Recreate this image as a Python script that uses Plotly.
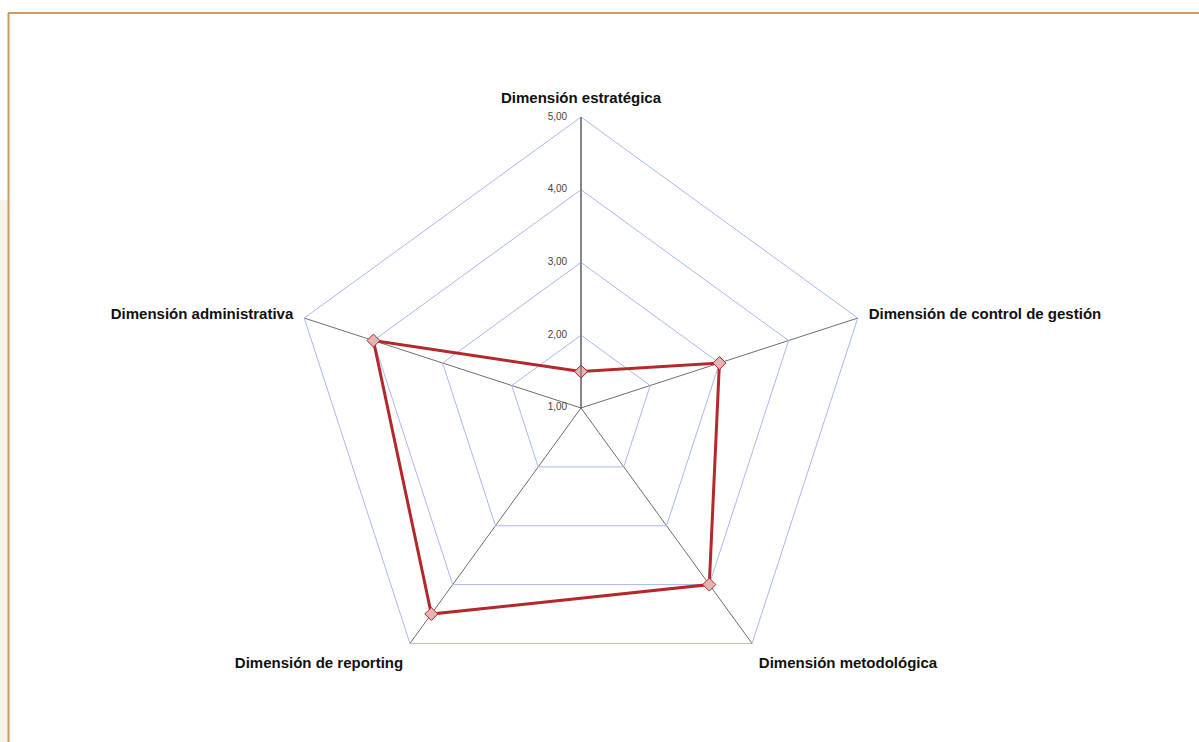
import plotly.graph_objects as go

categories = ["Dimensión estratégica", "Dimensión de control de gestión",
              "Dimensión metodológica", "Dimensión de reporting",
              "Dimensión administrativa"]
values = [1.5, 3.0, 4.0, 4.5, 4.0]
radial_ticks = [1, 2, 3, 4, 5]
radial_tick_labels = ["1,00", "2,00", "3,00", "4,00", "5,00"]

W, H = 1199, 742
cx, cy, R = 581, 408, 291

fig = go.Figure()
fig.add_trace(go.Scatterpolar(
    r=values + values[:1],
    theta=categories + categories[:1],
    mode="lines+markers",
    line=dict(color="#b3282b", width=3),
    marker=dict(symbol="diamond", size=10, color="#e2b4b2",
                line=dict(color="#b3282b", width=1)),
    showlegend=False,
    hoverinfo="r+theta",
))
# radial tick labels, drawn horizontally to the left of the top spoke
fig.add_trace(go.Scatterpolar(
    r=radial_ticks,
    theta=[categories[0]] * len(radial_ticks),
    mode="text",
    text=[t + "\u00a0" * 5 for t in radial_tick_labels],
    textposition="middle left",
    textfont=dict(size=10, color="#444444",
                  family="Liberation Sans, Arial, sans-serif"),
    showlegend=False,
    hoverinfo="skip",
    cliponaxis=False,
))

fig.update_layout(
    width=W, height=H,
    margin=dict(l=0, r=0, t=0, b=0),
    paper_bgcolor="white",
    separators=",.",
    font=dict(family="Liberation Sans, Arial, sans-serif", color="#222"),
    polar=dict(
        domain=dict(x=[(cx - R) / W, (cx + R) / W],
                    y=[1 - (cy + R) / H, 1 - (cy - R) / H]),
        bgcolor="white",
        gridshape="linear",
        radialaxis=dict(
            range=[0.999, 5], tickvals=radial_ticks,
            angle=90, showticklabels=False,
            showline=True, linecolor="#555555", linewidth=1,
            gridcolor="#a9b8ef", gridwidth=1, ticks="",
        ),
        angularaxis=dict(
            direction="clockwise", rotation=90,
            showline=True, linecolor="#a9b8ef", linewidth=1,
            gridcolor="#6e6e6e", gridwidth=1,
            ticks="outside", ticklen=8, tickcolor="rgba(0,0,0,0)",
            tickfont=dict(size=15, color="#111111",
                          family="Liberation Sans, Arial, sans-serif",
                          weight="bold"),
        ),
    ),
    shapes=[
        dict(type="rect", xref="paper", yref="paper", x0=0, x1=8 / W,
             y0=0, y1=1 - 200 / H, fillcolor="#f8f2ea", line=dict(width=0),
             layer="below"),
        dict(type="line", xref="paper", yref="paper", x0=8 / W, x1=1,
             y0=1 - 13 / H, y1=1 - 13 / H, line=dict(color="#c99a62", width=2)),
        dict(type="line", xref="paper", yref="paper", x0=8.5 / W, x1=8.5 / W,
             y0=0, y1=1 - 13 / H, line=dict(color="#c99a62", width=2)),
    ],
)

fig.write_html("out.html")
